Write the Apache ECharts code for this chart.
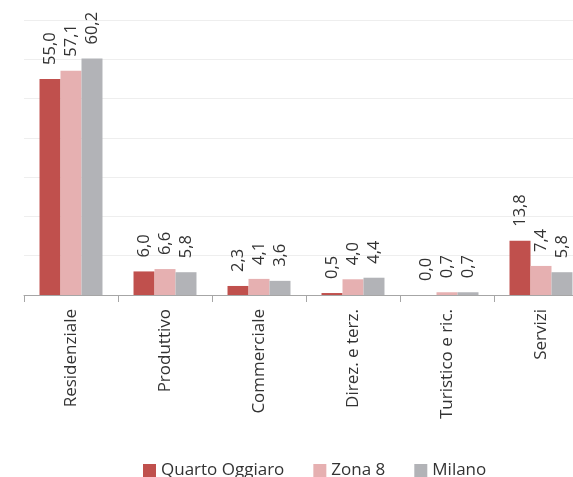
<!DOCTYPE html>
<html>
<head>
<meta charset="utf-8">
<script src="https://cdn.jsdelivr.net/npm/echarts@6/dist/echarts.min.js"></script>
<style>
html,body{margin:0;padding:0;background:#fff;overflow:hidden;}
#chart{width:610px;height:477px;}
</style>
</head>
<body>
<div id="chart"></div>
<script>
const categories = ['Residenziale', 'Produttivo', 'Commerciale', 'Direz. e terz.', 'Turistico e ric.', 'Servizi'];
const seriesNames = ['Quarto Oggiaro', 'Zona 8', 'Milano'];
const quartoOggiaro = [55.0, 6.0, 2.3, 0.5, 0.0, 13.8];
const zona8 = [57.1, 6.6, 4.1, 4.0, 0.7, 7.4];
const milano = [60.2, 5.8, 3.6, 4.4, 0.7, 5.8];
const colors = ['#C0504D', '#E6B0B1', '#B2B3B7'];

const FONT = '"Open Sans"';
const chart = echarts.init(document.getElementById('chart'));
function mk(name, data, color) {
  return {
    name: name, type: 'bar', data: data, barGap: '0%', barCategoryGap: '33%',
    itemStyle: { color: color },
    label: {
      show: true, position: 'top', rotate: 90, align: 'left', verticalAlign: 'middle',
      distance: 14, fontFamily: FONT, fontSize: 16.5, color: '#333333',
      formatter: p => p.value.toFixed(1).replace('.', ',')
    }
  };
}
chart.setOption({
  animation: false,
  grid: { left: 24, top: 20, width: 564, height: 275, containLabel: false },
  legend: {
    left: 138, top: 457, itemWidth: 13, itemHeight: 13, itemGap: 29,
    icon: 'rect',
    textStyle: { fontFamily: FONT, fontSize: 17, color: '#333333' },
    data: seriesNames
  },
  xAxis: {
    type: 'category', data: categories,
    axisLine: { lineStyle: { color: '#A6A6A6', width: 1 } },
    axisTick: { show: true, length: 7, lineStyle: { color: '#A6A6A6' } },
    axisLabel: { rotate: 90, margin: 14, fontFamily: FONT, fontSize: 17, color: '#333333', interval: 0 }
  },
  yAxis: {
    type: 'value', min: 0, max: 70, interval: 10,
    axisLine: { show: false }, axisTick: { show: false }, axisLabel: { show: false },
    splitLine: { lineStyle: { color: '#EEEEEE', width: 1 } }
  },
  series: [
    mk(seriesNames[0], quartoOggiaro, colors[0]),
    mk(seriesNames[1], zona8, colors[1]),
    mk(seriesNames[2], milano, colors[2])
  ]
});
</script>
</body>
</html>
